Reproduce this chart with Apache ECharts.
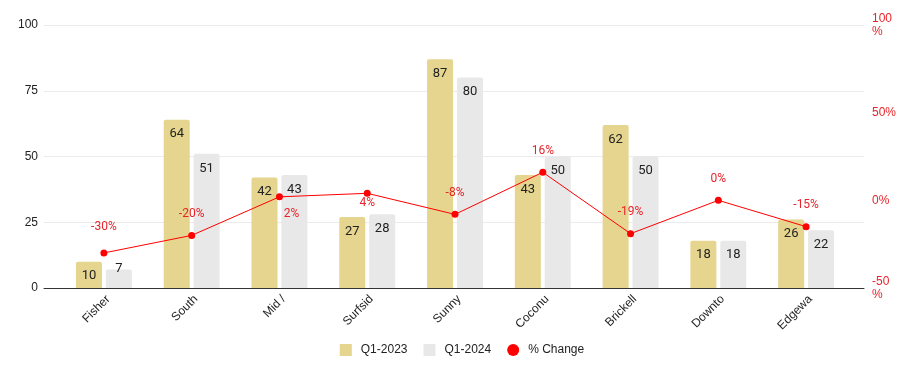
<!DOCTYPE html>
<html>
<head>
<meta charset="utf-8">
<script src="https://cdn.jsdelivr.net/npm/echarts@6/dist/echarts.min.js"></script>
<style>html,body{margin:0;padding:0;background:#fff}#c{width:924px;height:371px}</style>
</head>
<body>
<div id="c"></div>
<script>
const categories = ['Fisher', 'South', 'Mid /', 'Surfsid', 'Sunny', 'Coconu', 'Brickell', 'Downto', 'Edgewa'];
const q12023 = [10, 64, 42, 27, 87, 43, 62, 18, 26];
const q12024 = [7, 51, 43, 28, 80, 50, 50, 18, 22];
const pctChange = [-30, -20, 2, 4, -8, 16, -19, 0, -15];
const leftTicks = { min: 0, max: 100, interval: 25 };
const rightTicks = { min: -50, max: 100, interval: 50 };

const AXIS_FONT = 'Arial, "Liberation Sans", sans-serif';
const LABEL_FONT = 'Roboto, Arial, sans-serif';
const RED = '#ff0000';
const RED_TEXT = '#e8242a';

// label placement tweaks for the % change annotations (style only)
const lineLabelTweaks = {
  0: { distance: 16 },
  2: { position: 'bottom', distance: 8, offset: [12, 0] },
  3: { position: 'bottom', distance: 0 }
};

function barData(arr) {
  return arr.map(v => ({
    value: v,
    label: v < 9 ? { position: 'top', distance: -6 } : undefined
  }));
}

const lineData = pctChange.map((v, i) => ({
  value: v,
  label: lineLabelTweaks[i] || undefined
}));

const chart = echarts.init(document.getElementById('c'), null, { renderer: 'canvas' });
chart.setOption({
  animation: false,
  backgroundColor: '#fff',
  grid: [
    { left: 44, right: 60, top: 25, bottom: 83 },
    { left: 60, right: 74, top: 25, bottom: 83 }
  ],
  legend: {
    bottom: 10,
    left: 'center',
    itemWidth: 12,
    itemHeight: 12,
    itemGap: 16,
    textStyle: { fontFamily: AXIS_FONT, fontSize: 12, color: '#222', padding: [0, 0, 0, 4] },
    data: [
      { name: 'Q1-2023', icon: 'rect' },
      { name: 'Q1-2024', icon: 'rect' },
      { name: '% Change', icon: 'circle' }
    ]
  },
  xAxis: [
    {
      gridIndex: 0, type: 'category', data: categories,
      axisLine: { show: true, lineStyle: { color: '#333', width: 1 } },
      axisTick: { show: false }, axisLabel: { show: false }, splitLine: { show: false }
    },
    {
      gridIndex: 1, type: 'category', data: categories,
      axisLine: { show: false }, axisTick: { show: false },
      axisLabel: {
        rotate: 45, margin: 5, verticalAlign: 'top', interval: 0,
        fontFamily: AXIS_FONT, fontSize: 12, color: '#222'
      }
    }
  ],
  yAxis: [
    {
      gridIndex: 0, type: 'value', position: 'left',
      min: leftTicks.min, max: leftTicks.max, interval: leftTicks.interval,
      axisLine: { show: false }, axisTick: { show: false },
      axisLabel: { margin: 6, fontFamily: AXIS_FONT, fontSize: 12, color: '#222' },
      splitLine: { lineStyle: { color: '#ebebeb' } }
    },
    {
      gridIndex: 0, type: 'value', position: 'right',
      min: rightTicks.min, max: rightTicks.max, interval: rightTicks.interval,
      axisLine: { show: false }, axisTick: { show: false },
      axisLabel: {
        margin: 8, fontFamily: AXIS_FONT, fontSize: 12, color: RED_TEXT, lineHeight: 13,
        formatter: v => String(v).length >= 3 ? v + '\n%' : v + '%'
      },
      splitLine: { show: false }
    },
    {
      gridIndex: 1, type: 'value', show: false,
      min: leftTicks.min, max: leftTicks.max, interval: leftTicks.interval
    },
    {
      gridIndex: 1, type: 'value', show: false,
      min: rightTicks.min, max: rightTicks.max, interval: rightTicks.interval
    }
  ],
  series: [
    {
      name: 'Q1-2023', type: 'bar', xAxisIndex: 1, yAxisIndex: 2,
      data: barData(q12023), barWidth: 26, barGap: '15%',
      itemStyle: { color: '#e5d58e', borderRadius: [2, 2, 0, 0] },
      label: { show: true, position: 'insideTop', distance: 8, fontFamily: LABEL_FONT, fontSize: 13, color: '#222' }
    },
    {
      name: 'Q1-2024', type: 'bar', xAxisIndex: 1, yAxisIndex: 2,
      data: barData(q12024), barWidth: 26,
      itemStyle: { color: '#e8e8e8', borderRadius: [2, 2, 0, 0] },
      label: { show: true, position: 'insideTop', distance: 8, fontFamily: LABEL_FONT, fontSize: 13, color: '#222' }
    },
    {
      name: '% Change', type: 'line', xAxisIndex: 1, yAxisIndex: 3,
      data: lineData, symbol: 'circle', symbolSize: 7,
      itemStyle: { color: RED }, lineStyle: { color: RED, width: 1 },
      label: {
        show: true, position: 'top', distance: 12,
        formatter: p => p.value + '%',
        fontFamily: LABEL_FONT, fontSize: 12, color: RED_TEXT
      },
      z: 5
    }
  ]
});
</script>
</body>
</html>
